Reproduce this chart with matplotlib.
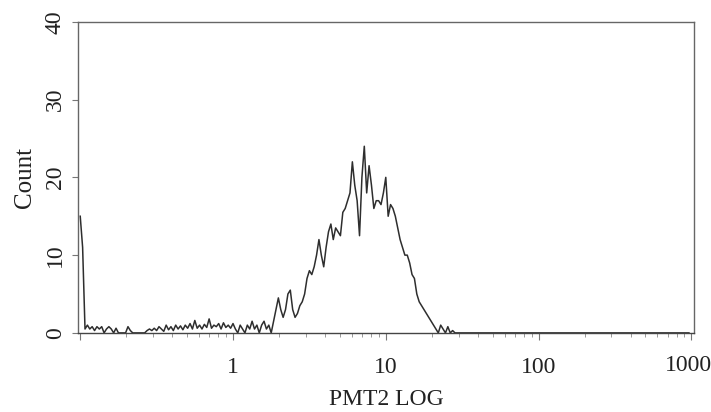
import numpy as np
import matplotlib.pyplot as plt
from matplotlib.ticker import FixedLocator, NullFormatter

# flow histogram, 1024 channels over 4 decades, read every 4 channels
channel_step = 4
counts_low = [15, 11, 0.5, 1, 0.5, 0.8, 0.3, 0.8, 0.5, 0.8, 0, 0.5, 0.8, 0.5, 0, 0.6,
              0, 0, 0, 0, 0.8, 0.3, 0, 0, 0, 0, 0, 0, 0.3, 0.5, 0.3, 0.6,
              0.3, 0.8, 0.5, 0.2, 1, 0.4, 0.8, 0.3, 1, 0.5, 0.9, 0.4, 1, 0.6, 1.2, 0.5,
              1.6, 0.6, 1, 0.5, 1.1, 0.7, 1.8, 0.6, 1, 0.8, 1.2, 0.5, 1.3, 0.7, 1, 0.6, 1.2]
counts_peak = [0.5, 0, 1, 0.5, 0, 1, 0.5, 1.5, 0.5, 1, 0, 1, 1.5, 0.5, 1, 0,
               1.5, 3, 4.5, 3, 2, 3, 5, 5.5, 3, 2, 2.5, 3.5, 4, 5, 7, 8,
               7.5, 8.5, 10, 12, 10, 8.5, 11, 13, 14, 12, 13.5, 13, 12.5, 15.5, 16, 17,
               18, 22, 19, 17, 12.5, 20, 24, 18, 21.5, 19, 16, 17, 17, 16.5, 18, 20,
               15, 16.5, 16, 15, 13.5, 12, 11, 10, 10, 9, 7.5, 7, 5, 4, 3.5, 3,
               2.5, 2, 1.5, 1, 0.5, 0, 1, 0.5, 0, 0.8, 0, 0.3, 0, 0]
counts_high = [0] * (256 - len(counts_low) - len(counts_peak))
counts = np.array(counts_low + counts_peak + counts_high, dtype=float)
channels = np.arange(len(counts)) * channel_step
pmt2 = 10 ** (channels / 256.0 - 1)

x_major = [0.1, 1, 10, 100, 1000]
x_labels = ["", "1", "10", "100", ""]
y_ticks = [0, 10, 20, 30, 40]

plt.rcParams["font.family"] = ["Liberation Serif", "DejaVu Serif"]
fig = plt.figure(figsize=(7.11, 4.12), dpi=100)
ax = fig.add_axes([0.110, 0.192, 0.866, 0.755])

ax.plot(pmt2, counts, color="#2e2e2e", lw=1.1)
ax.set_xscale("log")
ax.set_xlim(0.097, 1040)
ax.set_ylim(0, 40)

ax.xaxis.set_major_locator(FixedLocator(x_major))
ax.set_xticklabels(x_labels)
minor = [m * d for d in [0.1, 1, 10, 100] for m in range(2, 10)]
ax.xaxis.set_minor_locator(FixedLocator(minor))
ax.xaxis.set_minor_formatter(NullFormatter())
ax.set_yticks(y_ticks)
ax.set_yticklabels([str(v) for v in y_ticks], rotation=90, va="center")

ax.tick_params(axis="x", which="major", direction="out", length=5, width=0.8,
               color="#777777", labelsize=17, pad=12, labelcolor="#222222")
ax.tick_params(axis="x", which="minor", direction="out", length=3, width=0.7,
               color="#999999")
ax.tick_params(axis="y", direction="out", length=4, width=0.8, color="#777777",
               labelsize=17, pad=5, labelcolor="#222222")

# "1000" sits flush against the right edge in the original
ax.annotate("1000", xy=(1000, 0), xycoords=ax.get_xaxis_transform(),
            xytext=(15, -16), textcoords="offset points", ha="right", va="top",
            fontsize=17, color="#222222")

for side in ["left", "top", "right"]:
    ax.spines[side].set_color("#666666")
    ax.spines[side].set_linewidth(1.0)
ax.spines["bottom"].set_color("#444444")
ax.spines["bottom"].set_linewidth(1.0)

ax.set_xlabel("PMT2 LOG", fontsize=17, color="#222222", labelpad=8)
ax.set_ylabel("Count", fontsize=18, color="#222222", labelpad=6)

fig.savefig("out.png", dpi=100)
